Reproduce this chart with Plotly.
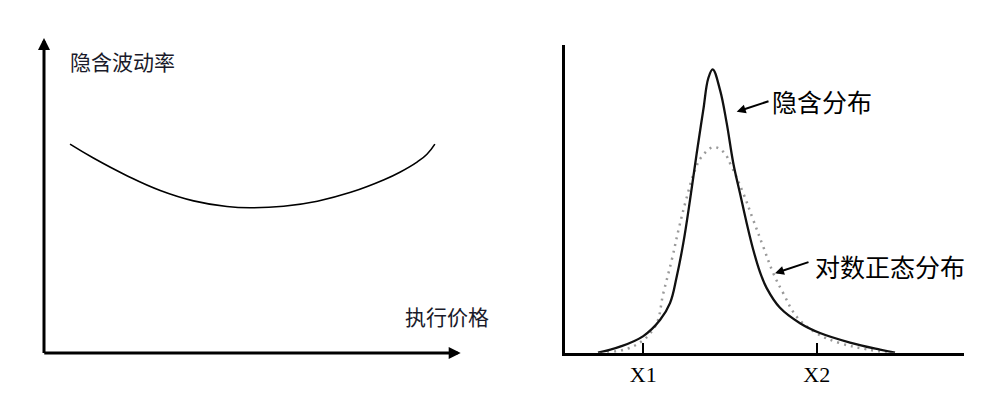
import plotly.graph_objects as go

W, H = 986, 397

# ---------------- data ----------------
# Left panel: implied volatility smile (strike, implied vol), arbitrary units
strike = [6.25, 11.85, 19.9, 27.9, 35.9, 43.9, 49.5, 57.5, 65.6, 73.6, 81.6, 85.4, 89.6, 91.9, 93.8]
implied_vol = [66.3, 61.9, 56.3, 51.6, 48.3, 46.5, 46.1, 46.6, 48.2, 51.0, 55.0, 57.4, 60.7, 63.1, 66.3]

# Right panel: implied distribution (solid) vs lognormal distribution (dotted)
implied_x = [33, 55, 78.3, 95, 105, 111.7, 118.3, 125, 131.7, 138.3, 143.3, 147.7, 155,
             161.7, 168.3, 175, 181.7, 188.3, 195, 201.7, 215, 235, 255, 285, 315, 330]
implied_density = [0.0, 0.0195, 0.054, 0.106, 0.161, 0.247, 0.356, 0.496, 0.648, 0.789, 0.892,
                   0.921, 0.854, 0.746, 0.616, 0.518, 0.421, 0.334, 0.262, 0.210, 0.146,
                   0.096, 0.064, 0.033, 0.010, 0.0]
lognorm_x = [35, 68, 90, 98.3, 106.7, 114.3, 121, 130, 136.7, 148.3, 158.3, 166.7, 178.3,
             188.3, 198.3, 208.3, 218.3, 231.7, 251.7, 275, 301.7, 325]
lognorm_density = [0.0, 0.02, 0.085, 0.193, 0.301, 0.41, 0.496, 0.594, 0.637, 0.668, 0.653,
                   0.604, 0.518, 0.431, 0.344, 0.258, 0.193, 0.117, 0.063, 0.031, 0.011, 0.0]

tick_positions = [78.3, 251.7]
tick_labels = ["X1", "X2"]

left_labels = {"y": "隐含波动率", "x": "执行价格"}
right_labels = ["隐含分布", "对数正态分布"]

# ---------------- figure ----------------
def px_x(p):
    return p / W

def px_y(p):
    return (H - p) / H

fig = go.Figure()

fig.add_trace(go.Scatter(x=strike, y=implied_vol, mode="lines",
                         line=dict(color="#000000", width=1.6, shape="spline", smoothing=1.3),
                         xaxis="x", yaxis="y", showlegend=False, hoverinfo="skip"))

fig.add_trace(go.Scatter(x=lognorm_x, y=lognorm_density, mode="lines",
                         line=dict(color="#9a9a9a", width=2.5, dash="2px,5px",
                                   shape="spline", smoothing=1.1),
                         xaxis="x2", yaxis="y2", showlegend=False, hoverinfo="skip"))
fig.add_trace(go.Scatter(x=implied_x, y=implied_density, mode="lines",
                         line=dict(color="#111111", width=2.3, shape="spline", smoothing=1.1),
                         xaxis="x2", yaxis="y2", showlegend=False, hoverinfo="skip"))

hidden = dict(showline=False, showgrid=False, zeroline=False, showticklabels=False, ticks="")

cjk_font = "Noto Sans CJK SC"

annotations = [
    # left axes with arrowheads
    dict(x=100, y=0, ax=-0.3, ay=0, xref="x", yref="y", axref="x", ayref="y", text="",
         showarrow=True, arrowhead=2, arrowsize=0.8, arrowwidth=3, arrowcolor="#000000"),
    dict(x=0, y=100, ax=0, ay=-0.5, xref="x", yref="y", axref="x", ayref="y", text="",
         showarrow=True, arrowhead=2, arrowsize=0.8, arrowwidth=3, arrowcolor="#000000"),
    dict(x=5.83, y=92.7, xref="x", yref="y", text=left_labels["y"], showarrow=False,
         xanchor="left", yanchor="middle",
         font=dict(family=cjk_font, size=21, color="#1a1a2a")),
    dict(x=86.2, y=11.8, xref="x", yref="y", text=left_labels["x"], showarrow=False,
         xanchor="left", yanchor="middle",
         font=dict(family=cjk_font, size=21, color="#1a1a2a")),
    # right panel labels with arrows
    dict(x=171.7, y=0.783, ax=205, ay=0.819, xref="x2", yref="y2", axref="x2", ayref="y2",
         text="", showarrow=True, arrowhead=2, arrowsize=0.9, arrowwidth=2,
         arrowcolor="#000000"),
    dict(x=205, y=0.819, xref="x2", yref="y2", text=right_labels[0], showarrow=False,
         xanchor="left", yanchor="middle",
         font=dict(family=cjk_font, size=25, color="#000000")),
    dict(x=210, y=0.258, ax=245, ay=0.296, xref="x2", yref="y2", axref="x2", ayref="y2",
         text="", showarrow=True, arrowhead=2, arrowsize=0.9, arrowwidth=2,
         arrowcolor="#000000"),
    dict(x=248.3, y=0.282, xref="x2", yref="y2", text=right_labels[1], showarrow=False,
         xanchor="left", yanchor="middle",
         font=dict(family=cjk_font, size=25, color="#000000")),
]

fig.update_layout(
    width=W, height=H,
    margin=dict(l=0, r=0, t=0, b=0),
    paper_bgcolor="#ffffff", plot_bgcolor="rgba(0,0,0,0)",
    xaxis=dict(domain=[px_x(44), px_x(460.7)], range=[0, 100], **hidden),
    yaxis=dict(domain=[px_y(353), px_y(38)], range=[0, 100], **hidden),
    xaxis2=dict(domain=[px_x(565), px_x(964)], range=[0, 399], anchor="y2",
                showline=True, linecolor="#000000", linewidth=2.5, mirror=False,
                showgrid=False, zeroline=False,
                tickmode="array", tickvals=tick_positions, ticktext=tick_labels,
                ticks="inside", ticklen=10, tickwidth=1.5, tickcolor="#000000",
                ticklabelstandoff=0,
                tickfont=dict(family="Liberation Serif", size=22, color="#000000")),
    yaxis2=dict(domain=[px_y(352.7), px_y(45)], range=[0, 1], anchor="x2",
                showline=True, linecolor="#000000", linewidth=2.5, mirror=False,
                showgrid=False, zeroline=False, showticklabels=False, ticks=""),
    annotations=annotations,
    showlegend=False,
)

fig.write_html("out.html")
